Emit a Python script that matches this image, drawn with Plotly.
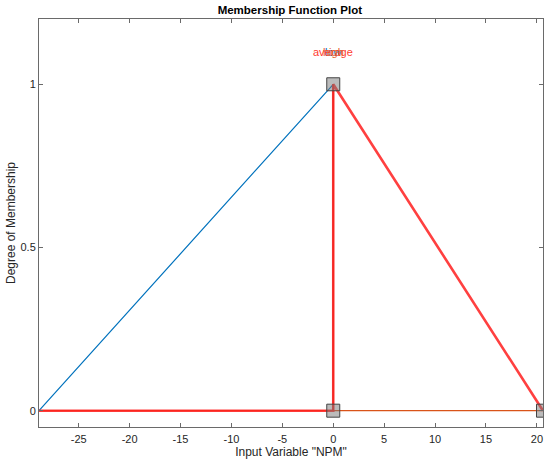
import plotly.graph_objects as go

# universe of the input variable "NPM"
x_min, x_max = -28.9, 20.6

# vertices of each membership function (as drawn)
low_x = [-28.9, 0, 0]
low_y = [0, 1, 0]
high_x = [-28.9, 0, 0, 0, 20.6]
high_y = [0, 0, 1, 0, 0]
avg_x = [-28.9, 0, 0, 20.6]
avg_y = [0, 0, 1, 0]

# control points of the selected MF (average)
ctrl_x = [0, 0, 20.6]
ctrl_y = [0, 1, 0]

mf_names = ["low", "average", "high"]
mf_peaks = [0, 0, 0]
mf_colors = ["#0072BD", "#FF3B30", "#E8602C"]

x_ticks = [-25, -20, -15, -10, -5, 0, 5, 10, 15, 20]
y_ticks = [0, 0.5, 1]

fig = go.Figure()
fig.add_trace(go.Scatter(x=low_x, y=low_y, mode="lines",
                         line=dict(color="#0072BD", width=1.2)))
fig.add_trace(go.Scatter(x=high_x, y=high_y, mode="lines",
                         line=dict(color="#D95319", width=1.3)))
fig.add_trace(go.Scatter(x=avg_x, y=avg_y, mode="lines",
                         line=dict(color="rgba(255,30,30,0.85)", width=2.6)))
fig.add_trace(go.Scatter(x=ctrl_x, y=ctrl_y, mode="markers",
                         marker=dict(symbol="square", size=13,
                                     color="rgba(120,120,120,0.5)",
                                     line=dict(color="#444444", width=1))))

for name, px_, col in zip(mf_names, mf_peaks, mf_colors):
    fig.add_annotation(x=px_, y=1.1, text=name, showarrow=False,
                       font=dict(color=col, size=11))

axis_common = dict(showline=True, linecolor="#6a6a6a", linewidth=1,
                   mirror="ticks", ticks="inside", ticklen=4,
                   tickcolor="#6a6a6a", showgrid=False, zeroline=False,
                   automargin=False,
                   tickfont=dict(size=11, color="#262626"))

fig.update_layout(
    width=550, height=462,
    margin=dict(l=39, r=7, t=19, b=35),
    paper_bgcolor="white", plot_bgcolor="white",
    showlegend=False,
    font=dict(family="Liberation Sans, Arial, sans-serif", color="#262626"),
    title=dict(text="<b>Membership Function Plot</b>", x=0.527, xanchor="center",
               y=0.978, yanchor="middle", font=dict(size=11.5, color="#000000")),
    xaxis=dict(range=[x_min, x_max], tickvals=x_ticks,
               ticktext=[str(v) for v in x_ticks], ticklabelstandoff=2,
               title=dict(text='Input Variable "NPM"', font=dict(size=12), standoff=2),
               **axis_common),
    yaxis=dict(range=[-0.05, 1.2], tickvals=y_ticks,
               ticktext=["0", "0.5", "1"],
               title=dict(text="Degree of Membership", font=dict(size=12), standoff=2),
               **axis_common),
)

# drop the default 8px page margin so the figure fills the window
fig.write_html("out.html", config={"displayModeBar": False},
               post_script="document.body.style.margin='0px';")
